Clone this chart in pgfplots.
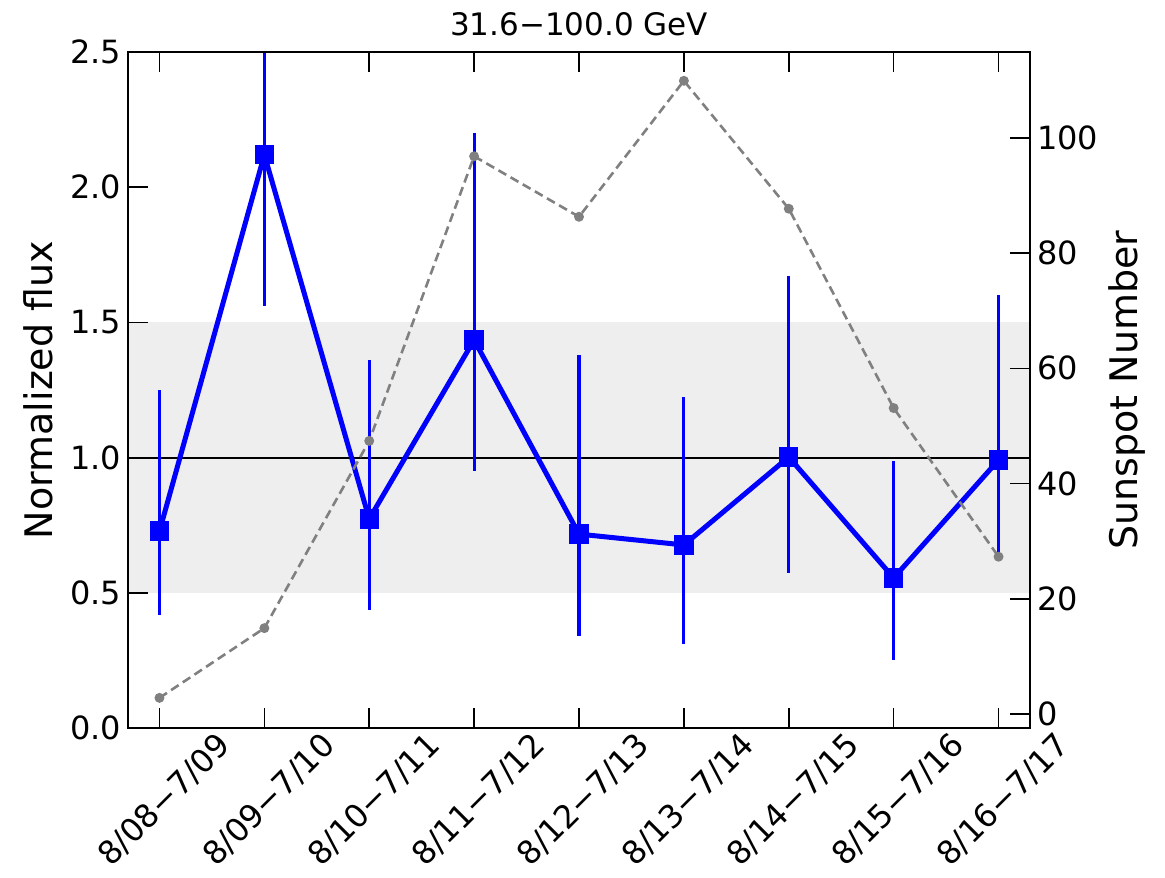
\documentclass[border=0pt]{standalone}
\usepackage{fontspec}
\setmainfont{DejaVu Sans}
\usepackage{pgfplots}
\pgfplotsset{compat=1.18}
\definecolor{bandgray}{HTML}{EEEEEE}
\definecolor{sungray}{HTML}{808080}
\begin{document}
\begin{tikzpicture}
\useasboundingbox (-64pt,-74.5pt) rectangle (518.5pt,364pt);
\begin{axis}[
  at={(0,0)}, anchor=south west,
  scale only axis, width=451pt, height=338pt,
  xmin=-0.3, xmax=8.3, ymin=0, ymax=2.5,
  axis line style={line width=1pt},
  major tick style={line width=0.8pt, black},
  major tick length=10pt,
  tick align=inside,
  xtick={0,1,2,3,4,5,6,7,8},
  xticklabels={8/08−7/09,8/09−7/10,8/10−7/11,8/11−7/12,8/12−7/13,8/13−7/14,8/14−7/15,8/15−7/16,8/16−7/17},
  xtick pos=bottom,
  ytick={0,0.5,1,1.5,2,2.5},
  ytick pos=left,
  minor tick num=0,
  /pgf/number format/assume math mode=true,
  yticklabel style={/pgf/number format/.cd, fixed, fixed zerofill, precision=1},
  tick label style={font=\fontsize{16}{19}\selectfont},
  xticklabel style={xshift=27.8pt, yshift=-1pt, rotate=45, anchor=north east, inner sep=0pt},
  ylabel={Normalized flux},
  ylabel style={font=\fontsize{19}{23}\selectfont, at={(axis description cs:0,0.5)}, anchor=center, yshift=45pt},
  title={31.6−100.0 GeV},
  title style={font=\fontsize{15.5}{18}\selectfont, at={(axis description cs:0.5,1)}, anchor=base, yshift=2pt},
  axis on top=true,
  clip=true,
]
\addplot[draw=none, fill=bandgray] coordinates {(-0.3,0.5) (8.3,0.5) (8.3,1.5) (-0.3,1.5)} -- cycle;
\addplot[black, line width=1pt] coordinates {(-0.3,1) (8.3,1)};
\addplot[blue, line width=2.5pt, mark=square*, mark size=4.6pt,
  mark options={solid, line width=0.5pt},
  error bars/.cd, y dir=both, y explicit, error mark=none,
  error bar style={line width=1.6pt, blue}]
coordinates {
  (0,0.728) += (0,0.522) -= (0,0.310)
  (1,2.120) += (0,0.600) -= (0,0.560)
  (2,0.773) += (0,0.587) -= (0,0.337)
  (3,1.435) += (0,0.765) -= (0,0.485)
  (4,0.717) += (0,0.663) -= (0,0.377)
  (5,0.677) += (0,0.547) -= (0,0.367)
  (6,1.002) += (0,0.668) -= (0,0.429)
  (7,0.555) += (0,0.432) -= (0,0.305)
  (8,0.991) += (0,0.609) -= (0,0.341)
};
\end{axis}
\begin{axis}[
  at={(0,0)}, anchor=south west,
  scale only axis, width=451pt, height=338pt,
  xmin=-0.3, xmax=8.3, ymin=-2.43, ymax=114.9,
  axis x line*=top,
  axis y line*=right,
  axis line style={line width=1pt, -},
  major tick style={line width=0.8pt, black},
  major tick length=10pt,
  tick align=inside,
  xtick={0,2,3,4,5,6,7,8},
  xticklabels={},
  ytick={0,20,40,60,80,100},
  minor tick num=0,
  /pgf/number format/assume math mode=true,
  tick label style={font=\fontsize{16}{19}\selectfont},
  ylabel={Sunspot Number},
  ylabel style={font=\fontsize{19}{23}\selectfont, at={(axis description cs:1,0.5)}, anchor=center, yshift=-48.5pt},
]
\addplot[sungray, line width=1.3pt, dash pattern=on 4.5pt off 2.5pt, mark=*, mark size=1.8pt, mark options={solid, fill=sungray, draw=sungray}]
coordinates {
  (0,2.8) (1,14.9) (2,47.4) (3,96.8) (4,86.3) (5,109.9) (6,87.7) (7,53.1) (8,27.3)
};
\end{axis}
\end{tikzpicture}
\end{document}
